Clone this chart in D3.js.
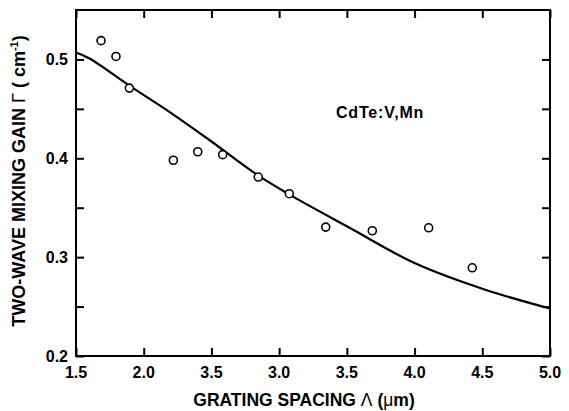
<!DOCTYPE html>
<html><head><meta charset="utf-8">
<script src="https://cdn.jsdelivr.net/npm/d3@7"></script>
<style>
body{margin:0;background:#fff;}
text{font-family:"Liberation Sans",Arial,Helvetica,sans-serif;font-weight:bold;fill:#000;}
</style></head>
<body><svg id="c" width="569" height="411"></svg>
<script>
// measured data points
const pointX = [1.685, 1.795, 1.894, 2.219, 2.399, 2.583, 2.846, 3.075, 3.344, 3.688, 4.104, 4.426];
const pointY = [0.519, 0.503, 0.471, 0.398, 0.4066, 0.4037, 0.381, 0.3642, 0.3304, 0.3267, 0.3297, 0.2892];
// fitted curve
const curveX = [1.5, 1.6, 1.9, 2.2, 2.48, 2.83, 3.08, 3.53, 4.0, 4.5, 5.0];
const curveY = [0.507, 0.501, 0.473, 0.446, 0.419, 0.384, 0.363, 0.329, 0.294, 0.268, 0.248];
// ticks
const xTicks = [1.5, 2.0, 2.5, 3.0, 3.5, 4.0, 4.5, 5.0];
const xTickLabels = ["1.5", "2.0", "3.5", "3.0", "3.5", "4.0", "4.5", "5.0"];
const yTicks = [0.2, 0.25, 0.3, 0.35, 0.4, 0.45, 0.5];
const yTickLabels = ["0.2", "0.3", "0.4", "0.5"];
const yLabelTicks = [0.2, 0.3, 0.4, 0.5];

const L = 76, R = 550, T = 10, B = 356;
const svg = d3.select("#c");
const x = d3.scaleLinear().domain([1.5, 5.0]).range([L, R]);
const y = d3.scaleLinear().domain([0.2, 0.55]).range([B, T]);

// tick marks (inward) on all sides
const tl = 8;
function styleAxis(g){ g.select(".domain").remove(); g.selectAll("line").attr("stroke","#000").attr("stroke-width",2); g.selectAll("text").remove(); }
svg.append("g").attr("transform",`translate(0,${B})`).call(d3.axisBottom(x).tickValues(xTicks).tickSize(-tl)).call(styleAxis);
svg.append("g").attr("transform",`translate(0,${T})`).call(d3.axisTop(x).tickValues(xTicks).tickSize(-tl)).call(styleAxis);
svg.append("g").attr("transform",`translate(${L},0)`).call(d3.axisLeft(y).tickValues(yTicks).tickSize(-tl)).call(styleAxis);
svg.append("g").attr("transform",`translate(${R},0)`).call(d3.axisRight(y).tickValues(yTicks).tickSize(-tl)).call(styleAxis);

// frame
svg.append("rect").attr("x",L).attr("y",T).attr("width",R-L).attr("height",B-T)
  .attr("fill","none").attr("stroke","#000").attr("stroke-width",2);

// tick labels
svg.append("g").selectAll("text").data(xTicks).join("text")
  .attr("x",d=>x(d)).attr("y",378).attr("text-anchor","middle").attr("font-size",16)
  .text((d,i)=>xTickLabels[i]);
svg.append("g").selectAll("text").data(yLabelTicks).join("text")
  .attr("x",68).attr("y",d=>y(d)+6).attr("text-anchor","end").attr("font-size",16)
  .text((d,i)=>yTickLabels[i]);

// curve
const line = d3.line().x(d=>x(d[0])).y(d=>y(d[1])).curve(d3.curveCatmullRom.alpha(0.5));
svg.append("path").datum(curveX.map((v,i)=>[v,curveY[i]])).attr("d",line)
  .attr("fill","none").attr("stroke","#000").attr("stroke-width",2.2);

// points
svg.append("g").selectAll("circle").data(pointX.map((v,i)=>[v,pointY[i]])).join("circle")
  .attr("cx",d=>x(d[0])).attr("cy",d=>y(d[1])).attr("r",4)
  .attr("fill","#fff").attr("stroke","#000").attr("stroke-width",1.6);

// annotation
svg.append("text").attr("x",336).attr("y",118).attr("font-size",16).attr("letter-spacing",0.8)
  .text("CdTe:V,Mn");

// axis labels
const xl = svg.append("text").attr("x",304).attr("y",406).attr("text-anchor","middle").attr("font-size",17.5);
xl.append("tspan").text("GRATING SPACING ");
xl.append("tspan").attr("font-weight","normal").text("Λ");
xl.append("tspan").text(" (");
xl.append("tspan").attr("font-weight","normal").text("μ");
xl.append("tspan").text("m)");

const yl = svg.append("text").attr("transform","translate(25,181) rotate(-90)").attr("text-anchor","middle").attr("font-size",18);
yl.append("tspan").text("TWO-WAVE MIXING GAIN ");
yl.append("tspan").attr("font-weight","normal").text("Γ");
yl.append("tspan").text(" ( cm");
yl.append("tspan").attr("font-size",11).attr("dy",-7).text("-1");
yl.append("tspan").attr("dy",7).text(")");
</script></body></html>
